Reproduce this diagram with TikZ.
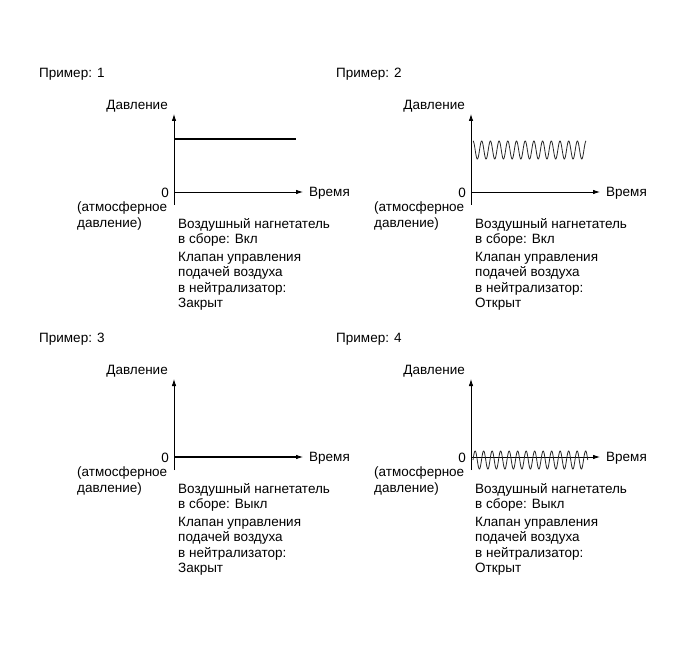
\documentclass[tikz,border=0pt]{standalone}
\usepackage{fontspec}
\setmainfont{Liberation Sans}
\usetikzlibrary{arrows.meta}
\tikzset{
  lbl/.style={inner sep=0pt, font=\fontsize{13.5}{15.5}\selectfont},
  axisline/.style={line width=0.8pt, black},
  axisarrow/.style={line width=0.8pt, black, -{Latex[length=7pt,width=4.5pt]}},
  thickline/.style={line width=2pt, black},
  waveline/.style={line width=0.8pt, black!85},
}
\newcommand{\drawpanel}[5]{%
\begin{scope}[shift={(#2,#3)}]
  \node[lbl, anchor=west] (title#1) at (39,74) {Пример: #1};
  \coordinate (o#1) at (174,192);
  \coordinate (ytop#1) at (174,114);
  \coordinate (ybot#1) at (174,205);
  \coordinate (xend#1) at (303,192);
  \draw[axisarrow] (ybot#1) -- (ytop#1);
  \draw[axisarrow] (o#1) -- (xend#1);
  \node[lbl, anchor=east] (plab#1) at (168,106) {Давление};
  \node[lbl, anchor=west] (tlab#1) at (309,193) {Время};
  \node[lbl, anchor=east] (zero#1) at (169,193) {0};
  \node[lbl, anchor=north west, align=left] (atm#1) at (77,202) {(атмосферное\\давление)};
  \node[lbl, anchor=north west, align=left] (blow#1) at (178,218) {Воздушный нагнетатель\\в сборе: #4};
  \node[lbl, anchor=north west, align=left] (valve#1) at (178,252) {Клапан управления\\подачей воздуха\\в нейтрализатор:\\#5};
\end{scope}}
\begin{document}
\begin{tikzpicture}[x=1pt,y=-1pt]
\useasboundingbox (0,0) rectangle (690,660);
\fill[white] (0,0) rectangle (690,660);
\drawpanel{1}{0}{0}{Вкл}{Закрыт}
\drawpanel{2}{297}{0}{Вкл}{Открыт}
\drawpanel{3}{0}{265}{Выкл}{Закрыт}
\drawpanel{4}{297}{265}{Выкл}{Открыт}
% panel 1: constant pressure
\coordinate (h1a) at (174,139);
\coordinate (h1b) at (296,139);
\draw[thickline] (h1a) -- (h1b);
% panel 2: pulsating pressure
\draw[waveline] plot[variable=\t, domain=0:13, samples=500] ({473+8.7*\t},{150-9*cos(360*\t)});
% panel 3: zero pressure
\coordinate (h3a) at (174,457);
\coordinate (h3b) at (297,457);
\draw[thickline] (h3a) -- (h3b);
% panel 4: pulsating around zero
\draw[waveline] plot[variable=\t, domain=0:13.5, samples=500] ({473+8.5*\t},{460-9*sin(360*\t)});
\end{tikzpicture}
\end{document}
